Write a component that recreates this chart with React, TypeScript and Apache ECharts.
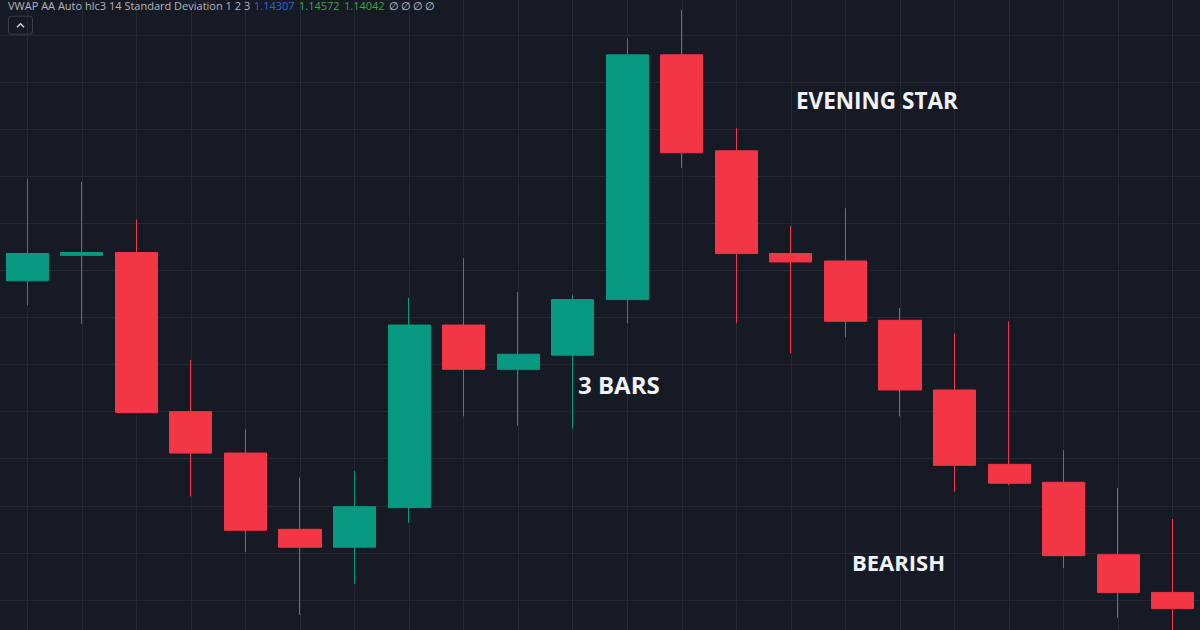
import React, { useEffect, useRef } from 'react';
import * as echarts from 'echarts';

// ---- data ----
const categories = [
  'c01', 'c02', 'c03', 'c04', 'c05', 'c06', 'c07', 'c08', 'c09', 'c10', 'c11',
  'c12', 'c13', 'c14', 'c15', 'c16', 'c17', 'c18', 'c19', 'c20', 'c21', 'c22',
];
const opens = [
  1.14339, 1.14366, 1.14369, 1.142, 1.14156, 1.14075, 1.14056, 1.14098, 1.14292, 1.14245, 1.1426,
  1.14319, 1.14579, 1.14477, 1.14368, 1.1436, 1.14297, 1.14223, 1.14144, 1.14125, 1.14048, 1.14008,
];
const closes = [
  1.14368, 1.14369, 1.14199, 1.14156, 1.14074, 1.14056, 1.14099, 1.14292, 1.14245, 1.14261, 1.14319,
  1.14579, 1.14475, 1.14368, 1.14359, 1.14296, 1.14223, 1.14143, 1.14124, 1.14047, 1.14008, 1.13991,
];
const lows = [
  1.14313, 1.14293, 1.14199, 1.1411, 1.14051, 1.13984, 1.14017, 1.14082, 1.14195, 1.14185, 1.14182,
  1.14294, 1.14459, 1.14294, 1.14262, 1.14279, 1.14195, 1.14115, 1.14122, 1.14034, 1.13981, 1.13937,
];
const highs = [
  1.14447, 1.14444, 1.14404, 1.14255, 1.14181, 1.1413, 1.14137, 1.14321, 1.14363, 1.14327, 1.14324,
  1.14596, 1.14627, 1.14501, 1.14397, 1.14416, 1.1431, 1.14283, 1.14296, 1.14159, 1.14119, 1.14086,
];

const yMin = 1.1395;
const yMax = 1.1465;
const yStep = 0.0005;

const headerTitle = 'VWAP AA Auto hlc3 14 Standard Deviation 1 2 3';
const headerValues = ['1.14307', '1.14572', '1.14042'];
const headerEmpty = ['∅', '∅', '∅', '∅'];
const annotations = ['EVENING STAR', '3 BARS', 'BEARISH'];

// the chart box is shifted up so that the price grid lines land where the reference has them
const SHIFT = 11.7;

export default function App() {
  const ref = useRef<HTMLDivElement>(null);

  useEffect(() => {
    if (!ref.current) return;
    const chart = echarts.init(ref.current, undefined, { renderer: 'svg' });

    const candleData = categories.map((_, i) => [opens[i], closes[i], lows[i], highs[i]]);

    const headerFont = '11px "Open Sans"';
    const valueColors = ['#2f62d6', '#43a047', '#43a047'];
    const valueX = [254, 299, 344];
    const emptyX = [389, 401, 413, 425];
    const annX = [796, 578, 852];
    const annY = [100.5, 385, 562];
    const annSize = [22.5, 24, 22];

    const graphics: any[] = [
      {
        type: 'text',
        x: 8,
        y: 6 + SHIFT,
        style: { text: headerTitle, font: headerFont, fill: '#b2b5be', align: 'left', verticalAlign: 'middle' },
        z: 100,
      },
      ...headerValues.map((v, i) => ({
        type: 'text',
        x: valueX[i],
        y: 6 + SHIFT,
        style: { text: v, font: headerFont, fill: valueColors[i], align: 'left', verticalAlign: 'middle' },
        z: 100,
      })),
      ...headerEmpty.map((v, i) => ({
        type: 'text',
        x: emptyX[i],
        y: 6 + SHIFT,
        style: { text: v, font: headerFont, fill: '#d1d4dc', align: 'left', verticalAlign: 'middle' },
        z: 100,
      })),
      {
        type: 'rect',
        shape: { x: 8.5, y: 16.5 + SHIFT, width: 24, height: 18, r: 3 },
        style: { fill: 'rgba(0,0,0,0)', stroke: '#3a3e4a', lineWidth: 1 },
        z: 100,
      },
      {
        type: 'polyline',
        shape: { points: [[17, 27.5 + SHIFT], [20.5, 24 + SHIFT], [24, 27.5 + SHIFT]] },
        style: { stroke: '#d1d4dc', lineWidth: 1.5, fill: 'none' },
        z: 100,
      },
      ...annotations.map((t, i) => ({
        type: 'text',
        x: annX[i],
        y: annY[i] + SHIFT,
        style: {
          text: t,
          font: `bold ${annSize[i]}px "Open Sans"`,
          fill: '#f0f3fa',
          align: 'left',
          verticalAlign: 'middle',
        },
        z: 100,
      })),
    ];

    chart.setOption({
      animation: false,
      backgroundColor: '#161a25',
      grid: { left: 0, right: -0.6, top: 0, bottom: 0, containLabel: false },
      xAxis: {
        type: 'category',
        data: categories,
        boundaryGap: true,
        axisLine: { show: false },
        axisTick: { show: false },
        axisLabel: { show: false },
        splitLine: { show: true, alignWithLabel: true, lineStyle: { color: '#242833', width: 1 } },
      },
      yAxis: {
        type: 'value',
        min: yMin,
        max: yMax,
        interval: yStep,
        axisLine: { show: false },
        axisTick: { show: false },
        axisLabel: { show: false },
        splitLine: { show: true, lineStyle: { color: '#242833', width: 1 } },
      },
      series: [
        {
          type: 'candlestick',
          data: candleData,
          barWidth: '78%',
          itemStyle: {
            color: '#089981',
            color0: '#f23645',
            borderColor: '#089981',
            borderColor0: '#f23645',
            borderWidth: 1,
          },
        },
      ],
      graphic: graphics,
    });

    return () => chart.dispose();
  }, []);

  return (
    <div
      ref={ref}
      style={{ position: 'fixed', left: 0, top: -SHIFT, width: 1200, height: 659.4 }}
    />
  );
}
